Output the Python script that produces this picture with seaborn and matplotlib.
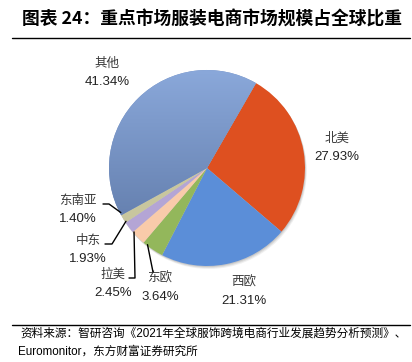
import numpy as np
import matplotlib.pyplot as plt
import seaborn as sns
from matplotlib.patches import Circle
from matplotlib.colors import LinearSegmentedColormap

# ---- data ----
regions = ['北美', '西欧', '东欧', '拉美', '中东', '东南亚', '其他']
shares = [27.93, 21.31, 3.64, 2.45, 1.93, 1.40, 41.34]
pct_labels = ['27.93%', '21.31%', '3.64%', '2.45%', '1.93%', '1.40%', '41.34%']

title = '图表 24：重点市场服装电商市场规模占全球比重'
source_lines = ['资料来源：智研咨询《2021年全球服饰跨境电商行业发展趋势分析预测》、',
                'Euromonitor，东方财富证券研究所']

# ---- style ----
sns.set_theme(style='white')
plt.rcParams['font.family'] = ['Noto Sans CJK SC', 'DejaVu Sans']

palette = ['#DE5020', '#5B8ED8', '#93B75B', '#F9CBAA', '#B4A5D5', '#C8C69E', '#7892C2']
other_grad = ['#8AA8DA', '#5A74A2']

W, H = 412, 362          # work in pixel units, y measured from the top
cx, cy, r = 207, 168, 98

def P(x, y):
    return x, H - y

fig = plt.figure(figsize=(W / 100, H / 100), dpi=100)
ax = fig.add_axes([0, 0, 1, 1])

# soft shadow under the pie
for off, a in [(3.0, 0.12), (2.0, 0.18), (1.0, 0.25)]:
    ax.add_patch(Circle(P(cx + off * 0.6, cy + off), r, color='#888888', alpha=a, lw=0, zorder=0))

wedges, _ = ax.pie(shares, colors=palette, startangle=60, counterclock=False,
                   center=P(cx, cy), radius=r, wedgeprops=dict(linewidth=0))

# gradient fill for "其他"
grad = ax.imshow(np.linspace(0, 1, 256).reshape(-1, 1),
                 cmap=LinearSegmentedColormap.from_list('g', other_grad),
                 extent=(cx - r, cx + r, H - cy - r, H - cy + r),
                 origin='upper', aspect='auto', zorder=wedges[-1].get_zorder() + 0.1)
grad.set_clip_path(wedges[-1])

# ---- labels ----
# text centre of the name line (px); percentage sits one line below
label_pos = {'北美': (337, 138), '西欧': (244, 282), '东欧': (160, 278),
             '拉美': (113, 274), '中东': (88, 240), '东南亚': (78, 200), '其他': (107, 63)}
# leader lines: label end -> elbow -> wedge edge
leaders = {'东南亚': [(103, 204), (109, 204)], '中东': [(105, 244), (112, 244)],
           '拉美': [(129, 278), (135, 278)], '东欧': [(153, 272), (153, 272)]}

for w, name, pct in zip(wedges, regions, pct_labels):
    x, y = label_pos[name]
    ax.text(*P(x, y), name, ha='center', va='center', fontsize=9, color='#3a3a3a')
    ax.text(*P(x, y + 19), pct, ha='center', va='center', fontsize=9.5, color='#222222',
            family=['Liberation Sans', 'DejaVu Sans'])
    if name in leaders:
        mid = np.deg2rad((w.theta1 + w.theta2) / 2 - 4)
        ex, ey = cx + r * 0.99 * np.cos(mid), cy - r * 0.99 * np.sin(mid)
        pts = [P(*p) for p in leaders[name]] + [P(ex, ey)]
        xs, ys = zip(*pts)
        ax.plot(xs, ys, color='black', lw=1.0, zorder=5)

# ---- title, rules and source ----
ax.text(*P(22, 20), title, ha='left', va='center', fontsize=12.8, fontweight='bold', color='black',
        family=['Noto Sans CJK SC', 'DejaVu Sans'])
ax.plot(*zip(P(12, 38), P(410, 38)), color='black', lw=1.0)
ax.plot(*zip(P(12, 325), P(410, 325)), color='black', lw=1.0)
ax.text(*P(20, 334), source_lines[0], ha='left', va='center', fontsize=8.4, color='black',
        family=['Liberation Sans', 'Noto Sans CJK SC'])
ax.text(*P(18, 352), source_lines[1], ha='left', va='center', fontsize=8.4, color='black',
        family=['Liberation Sans', 'Noto Sans CJK SC'])

ax.set_xlim(0, W)
ax.set_ylim(0, H)
ax.set_aspect('auto')
ax.axis('off')

fig.savefig('out.png', dpi=100)
